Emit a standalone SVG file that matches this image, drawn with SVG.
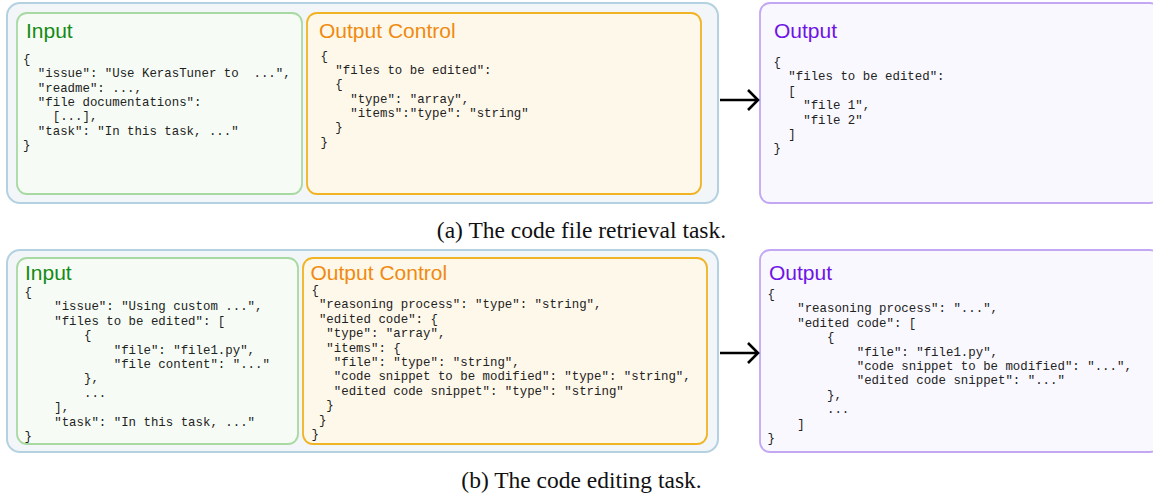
<svg xmlns="http://www.w3.org/2000/svg" width="1153" height="494" viewBox="0 0 1153 494">
<style>
.outer{fill:#f2f6f8;stroke:#b3d1e1;stroke-width:2}
.inp{fill:#f6fcf5;stroke:#a8d9a2;stroke-width:1.8}
.ctl{fill:#fef8ea;stroke:#f0b323;stroke-width:1.8}
.out{fill:#f9f8fe;stroke:#c2a7f3;stroke-width:1.8}
.t{font-family:"Liberation Sans",Arial,sans-serif;font-size:21px}
.tg{fill:#158a15}.to{fill:#f08a10}.tp{fill:#6e14e6}
.code{font-family:"Liberation Mono","Courier New",monospace;font-size:12.4px;fill:#222;white-space:pre}
.cap{font-family:"Liberation Serif","Times New Roman",serif;font-size:23.5px;fill:#111;text-anchor:middle}
.arr{stroke:#000;stroke-width:2.6;fill:none;stroke-linecap:butt;stroke-linejoin:miter}
</style>
<g id="panel-a">
<rect id="container-a" class="outer" x="7" y="3" width="711" height="200" rx="13"/>
<g id="input-a">
<rect class="inp" x="17" y="13" width="285" height="181" rx="10"/>
<text class="t tg" x="26" y="38">Input</text>
<text class="code" xml:space="preserve"><tspan x="23" y="63">{</tspan><tspan x="23" y="77.3">  "issue": "Use KerasTuner to  ...",</tspan><tspan x="23" y="91.6">  "readme": ...,</tspan><tspan x="23" y="106">  "file documentations":</tspan><tspan x="23" y="120.3">    [...],</tspan><tspan x="23" y="134.6">  "task": "In this task, ..."</tspan><tspan x="23" y="149">}</tspan></text>
</g>
<g id="control-a">
<rect class="ctl" x="307" y="13" width="394" height="181" rx="10"/>
<text class="t to" x="319" y="38">Output Control</text>
<text class="code" xml:space="preserve"><tspan x="320.5" y="59.5">{</tspan><tspan x="320.5" y="74">  "files to be edited":</tspan><tspan x="320.5" y="88.3">  {</tspan><tspan x="320.5" y="102.6">    "type": "array",</tspan><tspan x="320.5" y="117">    "items":"type": "string"</tspan><tspan x="320.5" y="131.3">  }</tspan><tspan x="320.5" y="145.6">}</tspan></text>
</g>
<g id="output-a">
<rect class="out" x="760" y="3" width="400" height="200" rx="10"/>
<text class="t tp" x="774" y="38">Output</text>
<text class="code" xml:space="preserve"><tspan x="773.5" y="66">{</tspan><tspan x="773.5" y="80.4">  "files to be edited":</tspan><tspan x="773.5" y="94.8">  [</tspan><tspan x="773.5" y="109.2">    "file 1",</tspan><tspan x="773.5" y="123.6">    "file 2"</tspan><tspan x="773.5" y="138">  ]</tspan><tspan x="773.5" y="152.4">}</tspan></text>
</g>
<text class="cap" x="581.5" y="238">(a) The code file retrieval task.</text>
</g>
<g id="panel-b">
<rect id="container-b" class="outer" x="7" y="250" width="711" height="202" rx="13"/>
<g id="input-b">
<rect class="inp" x="17" y="258" width="281" height="186" rx="10"/>
<text class="t tg" x="25" y="280">Input</text>
<text class="code" xml:space="preserve"><tspan x="24.5" y="296">{</tspan><tspan x="24.5" y="310.4">    "issue": "Using custom ...",</tspan><tspan x="24.5" y="324.8">    "files to be edited": [</tspan><tspan x="24.5" y="339.2">        {</tspan><tspan x="24.5" y="353.6">            "file": "file1.py",</tspan><tspan x="24.5" y="368">            "file content": "..."</tspan><tspan x="24.5" y="382.4">        },</tspan><tspan x="24.5" y="396.8">        ...</tspan><tspan x="24.5" y="411.2">    ],</tspan><tspan x="24.5" y="425.6">    "task": "In this task, ..."</tspan><tspan x="24.5" y="440">}</tspan></text>
</g>
<g id="control-b">
<rect class="ctl" x="303" y="258" width="404" height="186" rx="10"/>
<text class="t to" x="310.5" y="280">Output Control</text>
<text class="code" xml:space="preserve"><tspan x="311.5" y="294">{</tspan><tspan x="311.5" y="308.4"> "reasoning process": "type": "string",</tspan><tspan x="311.5" y="322.8"> "edited code": {</tspan><tspan x="311.5" y="337.2">  "type": "array",</tspan><tspan x="311.5" y="351.6">  "items": {</tspan><tspan x="311.5" y="366">   "file": "type": "string",</tspan><tspan x="311.5" y="380.4">   "code snippet to be modified": "type": "string",</tspan><tspan x="311.5" y="394.8">   "edited code snippet": "type": "string"</tspan><tspan x="311.5" y="409.2">  }</tspan><tspan x="311.5" y="423.6"> }</tspan><tspan x="311.5" y="438">}</tspan></text>
</g>
<g id="output-b">
<rect class="out" x="760" y="250" width="400" height="202" rx="10"/>
<text class="t tp" x="769" y="280">Output</text>
<text class="code" xml:space="preserve"><tspan x="767.5" y="298">{</tspan><tspan x="767.5" y="312.4">    "reasoning process": "...",</tspan><tspan x="767.5" y="326.8">    "edited code": [</tspan><tspan x="767.5" y="341.2">        {</tspan><tspan x="767.5" y="355.6">            "file": "file1.py",</tspan><tspan x="767.5" y="370">            "code snippet to be modified": "...",</tspan><tspan x="767.5" y="384.4">            "edited code snippet": "..."</tspan><tspan x="767.5" y="398.8">        },</tspan><tspan x="767.5" y="413.2">        ...</tspan><tspan x="767.5" y="427.6">    ]</tspan><tspan x="767.5" y="442">}</tspan></text>
</g>
<text class="cap" x="581.5" y="488">(b) The code editing task.</text>
</g>
<g id="connectors">
<path class="arr" d="M720 100 H757.5 M748 90 L758 100 L748 110"/>
<path class="arr" d="M720 353 H757.5 M748 343 L758 353 L748 363"/>
</g>
</svg>
